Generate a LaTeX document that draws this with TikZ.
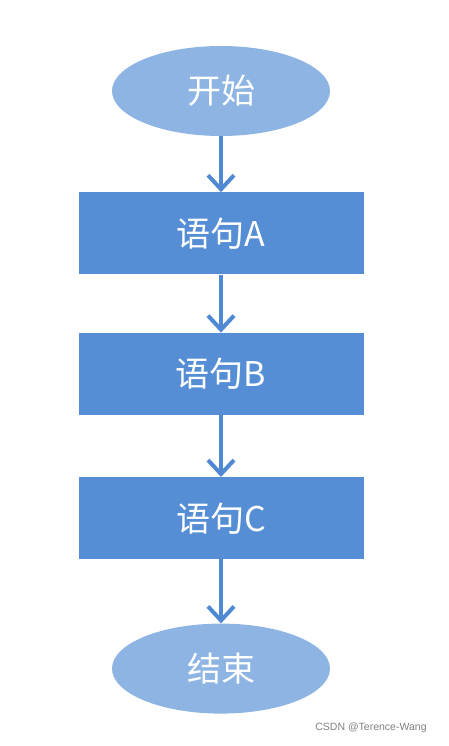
\documentclass[tikz,border=0pt]{standalone}
\usepackage{fontspec}
\usepackage{xcolor}
\usepackage{tikz}
\usetikzlibrary{positioning,shapes,arrows.meta}
\newfontfamily\cjk{Noto Sans CJK SC}
\newfontfamily\wmfont{Liberation Sans}
\definecolor{ovalblue}{HTML}{8DB4E2}
\definecolor{boxblue}{HTML}{558ED5}
\definecolor{arrowblue}{HTML}{4F88D3}

\begin{document}
\begin{tikzpicture}[x=1pt, y=1pt, node distance=58pt,
        every node/.style = {inner sep=0pt, text=white,
        font=\cjk\fontsize{34}{40}\selectfont},
        oval/.style = {ellipse, fill=ovalblue,
        minimum width=218pt, minimum height=90pt},
        stmt/.style = {rectangle, fill=boxblue,
        minimum width=285pt, minimum height=82pt},
        flow/.style = {draw=arrowblue, line width=4pt,
        -{Straight Barb[length=14pt, width=26pt]}}]
        \useasboundingbox (0,0) rectangle (448,746);
        % main chain
        \node[oval] (start) at (221,655) {开始};
        \node[stmt, below=56pt of start] (stmtA) {语句A};
        \node[stmt, below=of stmtA] (stmtB) {语句B};
        \node[stmt, below=62pt of stmtB] (stmtC) {语句C};
        \node[oval, below=64pt of stmtC] (end) {结束};
        % arrows
        \draw[flow] (start) -- (stmtA);
        \draw[flow] (stmtA) -- (stmtB);
        \draw[flow] (stmtB) -- (stmtC);
        \draw[flow] (stmtC) -- (end);
        % watermark
        \node[text=gray, font=\wmfont\fontsize{10.5}{12}\selectfont]
            (mark) at (371,18) {CSDN @Terence-Wang};
\end{tikzpicture}
\end{document}
